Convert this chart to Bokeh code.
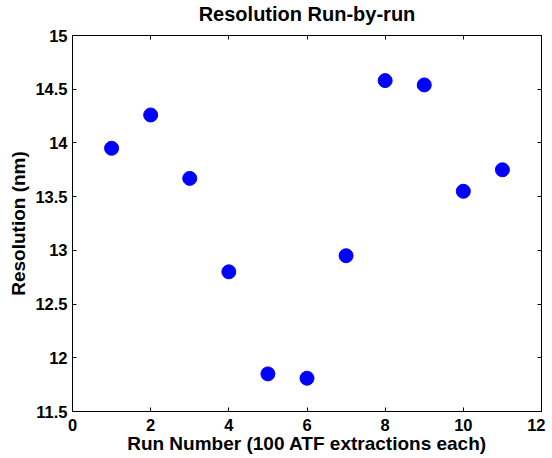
from bokeh.plotting import figure
from bokeh.models import LinearAxis, FixedTicker, Range1d
from bokeh.embed import file_html
from bokeh.resources import INLINE

runs = [1, 2, 3, 4, 5, 6, 7, 8, 9, 10, 11]
resolution = [13.95, 14.26, 13.67, 12.80, 11.85, 11.81, 12.95, 14.58, 14.54, 13.55, 13.75]
x_ticks = [0, 2, 4, 6, 8, 10, 12]
y_ticks = [11.5, 12, 12.5, 13, 13.5, 14, 14.5, 15]

FONT = "Liberation Sans"

p = figure(frame_width=469, frame_height=376, output_backend="svg", toolbar_location=None,
           x_range=Range1d(0, 12), y_range=Range1d(11.5, 15),
           min_border_left=0, min_border_right=4, min_border_top=0, min_border_bottom=0,
           x_axis_location=None, y_axis_location=None)
p.margin = (-10, 0, 0, 5)

p.title.text = "Resolution Run-by-run"
p.title.align = "center"
p.title.text_font = FONT
p.title.text_font_style = "bold"
p.title.text_font_size = "20px"
p.title.text_color = "black"
p.title.text_line_height = 0.8
p.title.offset = 0
p.title.standoff = 21

p.grid.visible = False
p.outline_line_color = "black"
p.outline_line_width = 1
p.outline_line_alpha = 1

bottom = LinearAxis(ticker=FixedTicker(ticks=x_ticks), axis_label="Run Number (100 ATF extractions each)")
left = LinearAxis(ticker=FixedTicker(ticks=y_ticks), axis_label="Resolution (nm)")
top = LinearAxis(ticker=FixedTicker(ticks=x_ticks), major_label_overrides={t: "" for t in x_ticks})
right = LinearAxis(ticker=FixedTicker(ticks=y_ticks), major_label_overrides={t: "" for t in y_ticks})

for ax in (bottom, left, top, right):
    ax.major_tick_in = 4
    ax.major_tick_out = 0
    ax.minor_tick_line_color = None
    ax.axis_line_color = "black"
    ax.major_tick_line_color = "black"
    ax.major_label_text_font = FONT
    ax.major_label_text_font_style = "bold"
    ax.major_label_text_font_size = "16.5px"
    ax.major_label_text_color = "black"
    ax.axis_label_text_font = FONT
    ax.axis_label_text_font_style = "bold"
    ax.axis_label_text_font_size = "19px"
    ax.axis_label_text_color = "black"

bottom.major_label_standoff = 7
bottom.axis_label_standoff = -1
left.major_label_standoff = 5
left.axis_label_standoff = 3
for ax in (top, right):
    ax.major_label_standoff = 0

p.add_layout(bottom, "below")
p.add_layout(left, "left")
p.add_layout(top, "above")
p.add_layout(right, "right")

p.scatter(runs, resolution, size=14, color="#0000FF", line_color="#0000FF")

open("out.html", "w").write(file_html(p, INLINE))
